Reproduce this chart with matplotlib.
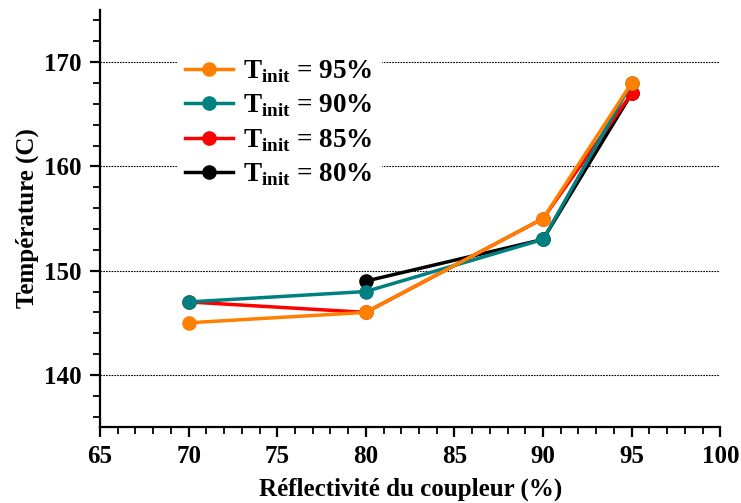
import matplotlib
matplotlib.use("Agg")
import matplotlib.pyplot as plt
from matplotlib.ticker import MultipleLocator

plt.rcParams['font.family'] = ['Liberation Serif', 'DejaVu Serif']
plt.rcParams['font.weight'] = 'bold'
plt.rcParams['mathtext.fontset'] = 'custom'
plt.rcParams['mathtext.rm'] = 'Liberation Serif:bold'
plt.rcParams['mathtext.bf'] = 'Liberation Serif:bold'

# reflectivity of the output coupler (%) and peak temperature
x80 = [80, 90, 95]
t80 = [149, 153, 167]
x85 = [70, 80, 90, 95]
t85 = [147, 146, 155, 167]
x90 = [70, 80, 90, 95]
t90 = [147, 148, 153, 168]
x95 = [70, 80, 90, 95]
t95 = [145, 146, 155, 168]

series = [
    (x80, t80, '#000000', 'T$_\\mathrm{init}$ = 80%'),
    (x85, t85, '#ff0000', 'T$_\\mathrm{init}$ = 85%'),
    (x90, t90, '#008080', 'T$_\\mathrm{init}$ = 90%'),
    (x95, t95, '#ff8000', 'T$_\\mathrm{init}$ = 95%'),
]

fig = plt.figure(figsize=(7.41, 5.03), dpi=100)
ax = fig.add_axes([0.135, 0.151, 0.837, 0.829])

for xs, ys, c, lab in series:
    ax.plot(xs, ys, '-o', color=c, lw=2.5, ms=9.5, label=lab)

ax.set_xlim(65, 100)
ax.set_ylim(135, 175)
ax.xaxis.set_major_locator(MultipleLocator(5))
ax.xaxis.set_minor_locator(MultipleLocator(1))
ax.yaxis.set_minor_locator(MultipleLocator(2))
ax.set_yticks([140, 150, 160, 170])

ax.spines['top'].set_visible(False)
ax.spines['right'].set_visible(False)
for s in ('left', 'bottom'):
    ax.spines[s].set_linewidth(1.6)
ax.tick_params(which='major', direction='out', length=7, width=1.6, labelsize=18, pad=6)
ax.tick_params(which='minor', direction='out', length=5, width=1.3)

ax.grid(axis='y', which='major', linestyle=(0, (1.5, 1)), color='black', lw=0.8)

ax.set_xlabel('Réflectivité du coupleur (%)', fontsize=18, fontweight='bold', labelpad=7)
ax.set_ylabel('Température (C)', fontsize=18, fontweight='bold', labelpad=4)

h, l = ax.get_legend_handles_labels()
leg = ax.legend(h[::-1], l[::-1], loc='upper left', bbox_to_anchor=(0.102, 0.936),
                fontsize=19.5, frameon=True, framealpha=1, edgecolor='white',
                fancybox=False, handlelength=1.78, handletextpad=0.37,
                labelspacing=0.29, borderpad=0.3)

fig.savefig('out.png', dpi=100)
